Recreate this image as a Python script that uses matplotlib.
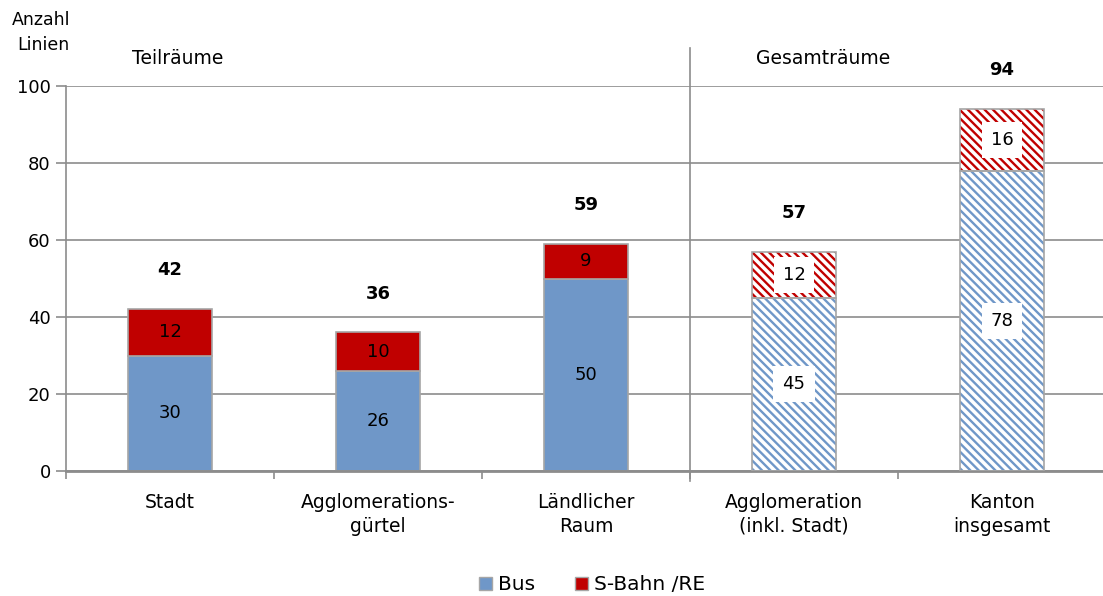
import matplotlib
matplotlib.use("Agg")
import matplotlib.pyplot as plt
import numpy as np
from matplotlib.patches import Patch

categories = ["Stadt", "Agglomerations-\ngürtel", "Ländlicher\nRaum",
              "Agglomeration\n(inkl. Stadt)", "Kanton\ninsgesamt"]
bus = [30, 26, 50, 45, 78]
sbahn = [12, 10, 9, 12, 16]
hatched = [False, False, False, True, True]
yticks = [0, 20, 40, 60, 80, 100]

BLUE = "#6F97C8"
RED = "#C00000"
GRID = "#8C8C8C"

plt.rcParams["font.family"] = ["DejaVu Sans"]
plt.rcParams["hatch.linewidth"] = 1.7

fig = plt.figure(figsize=(11.03, 5.96), dpi=100)
ax = fig.add_axes([66 / 1103, 1 - 471 / 596, 1040 / 1103, 385 / 596])

x = np.arange(len(categories))
width = 0.4
totals = [b + s for b, s in zip(bus, sbahn)]

for i in range(len(categories)):
    for bottom, val, col in ((0, bus[i], BLUE), (bus[i], sbahn[i], RED)):
        if hatched[i]:
            ax.bar(x[i], val, width, bottom=bottom, facecolor="white",
                   edgecolor=col, hatch="\\" * 4, linewidth=0, zorder=2)
            ax.bar(x[i], val, width, bottom=bottom, facecolor="none",
                   edgecolor="#A6A6A6", linewidth=1.2, zorder=3)
            ax.text(x[i], bottom + val / 2, str(val), ha="center", va="center",
                    fontsize=13, zorder=4,
                    bbox=dict(boxstyle="square,pad=0.5", fc="white", ec="none"))
        else:
            ax.bar(x[i], val, width, bottom=bottom, color=col,
                   edgecolor="#A6A6A6", linewidth=1.2, zorder=2)
            ax.text(x[i], bottom + val / 2, str(val), ha="center", va="center",
                    fontsize=13, zorder=4)
    ax.annotate(str(totals[i]), (x[i], totals[i]), xytext=(0, 28),
                textcoords="offset points", ha="center", va="center",
                fontsize=13, fontweight="bold")

ax.set_xlim(-0.5, 4.5)
ax.set_ylim(0, 100)
ax.set_yticks(yticks)
ax.set_yticklabels([str(v) for v in yticks], fontsize=13)
ax.yaxis.grid(True, color=GRID, linewidth=1.2, zorder=0)
ax.set_axisbelow(True)

ax.set_xticks(x)
ax.set_xticklabels(categories, fontsize=13.5, linespacing=1.3)
ax.tick_params(axis="x", length=0, pad=16)
ax.set_xticks(np.arange(-0.5, 5, 1), minor=True)
ax.tick_params(axis="x", which="minor", length=6, color=GRID, width=1.2)
ax.tick_params(axis="y", length=7, color=GRID, width=1.2, pad=4)

for side in ("top", "right"):
    ax.spines[side].set_visible(False)
ax.spines["left"].set_color(GRID)
ax.spines["left"].set_linewidth(1.2)
ax.spines["bottom"].set_color(GRID)
ax.spines["bottom"].set_linewidth(2)

# divider between sub-areas and total areas
ax.plot([2.5, 2.5], [-2.5, 110], color=GRID, linewidth=1.2, clip_on=False, zorder=1)

fig.text(12 / 1103, 1 - 20 / 596, "Anzahl", fontsize=12.5, va="center", ha="left")
fig.text(17 / 1103, 1 - 45 / 596, "Linien", fontsize=12.5, va="center", ha="left")
fig.text(178 / 1103, 1 - 58 / 596, "Teilräume", fontsize=13.5, va="center", ha="center")
fig.text(823 / 1103, 1 - 58 / 596, "Gesamträume", fontsize=13.5, va="center", ha="center")

handles = [Patch(facecolor=BLUE, edgecolor="#A6A6A6"),
           Patch(facecolor=RED, edgecolor="#A6A6A6")]
fig.legend(handles, ["Bus", "S-Bahn /RE"], loc="center",
           bbox_to_anchor=(592 / 1103, 1 - 585 / 596), ncol=2, frameon=False,
           fontsize=14.5, handlelength=0.65, handleheight=0.65,
           handletextpad=0.3, columnspacing=2.0)

fig.savefig("out.png", dpi=100)
